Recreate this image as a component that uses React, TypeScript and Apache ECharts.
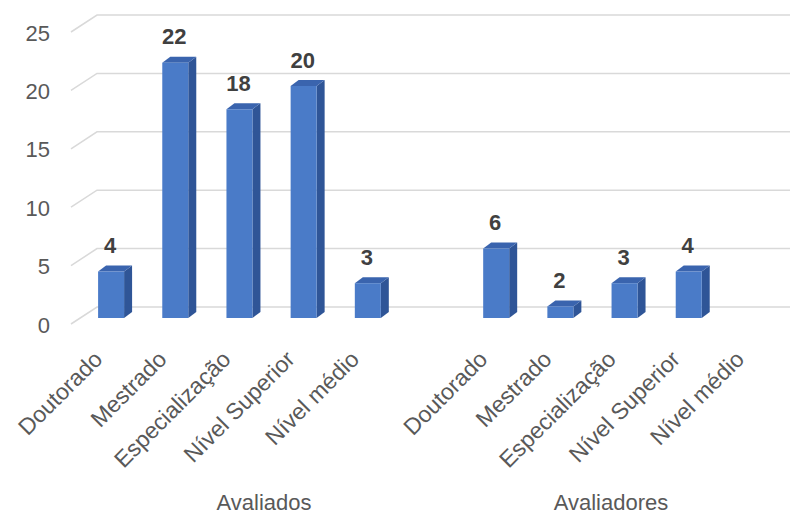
import React, { useEffect, useRef } from "react";
import * as echarts from "echarts";

const levels = ["Doutorado", "Mestrado", "Especialização", "Nível Superior", "Nível médio"];
const groups = ["Avaliados", "Avaliadores"];
const avaliadosValues: (number | null)[] = [4, 22, 18, 20, 3];
const avaliadoresValues: (number | null)[] = [6, 1, 3, 4, null];
const avaliadosLabels = ["4", "22", "18", "20", "3"];
const avaliadoresLabels = ["6", "2", "3", "4", ""];
const yTicks = [0, 5, 10, 15, 20, 25];

const categories = [...levels, "", ...levels];

const FONT = "'Liberation Sans', Arial, sans-serif";
const TEXT = "#595959";

export default function App() {
  const ref = useRef<HTMLDivElement>(null);
  useEffect(() => {
    if (!ref.current) return;
    const chart = echarts.init(ref.current, null, { renderer: "svg" });

    const barData: any[] = [];
    avaliadosValues.forEach((v, i) => {
      if (v != null) barData.push([i, v, avaliadosLabels[i]]);
    });
    avaliadoresValues.forEach((v, i) => {
      if (v != null) barData.push([i + levels.length + 1, v, avaliadoresLabels[i]]);
    });

    const DX = 8, DY = -6, HW = 13;

    const option: any = {
      animation: false,
      backgroundColor: "#ffffff",
      grid: [
        { left: 79, right: 5, top: 28, bottom: 197 }, // bars
        { left: 97, right: 0, top: 15, bottom: 208 }, // back wall
        { left: 79, right: 5, top: 33, bottom: 190 }, // y labels
        { left: 66, right: 18, top: 28, bottom: 197 }, // x labels
      ],
      xAxis: [
        { type: "category", gridIndex: 0, data: categories, show: false },
        { type: "value", gridIndex: 1, min: 0, max: 1, show: false },
        { type: "value", gridIndex: 2, min: 0, max: 1, show: false },
        {
          type: "category",
          gridIndex: 3,
          data: categories,
          axisLine: { show: false },
          axisTick: { show: false },
          axisLabel: {
            interval: 0,
            rotate: 45,
            margin: 37,
            fontSize: 23,
            fontFamily: FONT,
            color: TEXT,
          },
        },
      ],
      yAxis: [
        { type: "value", gridIndex: 0, min: 0, max: 25, interval: 5, show: false },
        { type: "value", gridIndex: 1, min: 0, max: 25, interval: 5, show: false },
        {
          type: "value",
          gridIndex: 2,
          min: 0,
          max: 25,
          interval: 5,
          axisLine: { show: false },
          axisTick: { show: false },
          splitLine: { show: false },
          axisLabel: { margin: 29, fontSize: 22, fontFamily: FONT, color: TEXT },
        },
        { type: "value", gridIndex: 3, min: 0, max: 25, show: false },
      ],
      graphic: groups.map((g, i) => ({
        type: "text",
        x: i === 0 ? 264 : 611,
        y: 502,
        style: {
          text: g,
          fontSize: 22,
          fontFamily: FONT,
          fill: TEXT,
          textAlign: "center",
          textVerticalAlign: "middle",
        },
      })),
      series: [
        {
          type: "custom",
          xAxisIndex: 1,
          yAxisIndex: 1,
          z: 1,
          silent: true,
          data: yTicks.map((t) => [0, t]),
          renderItem: (params: any, api: any) => {
            const p = api.coord([0, api.value(1)]);
            const cs = params.coordSys;
            return {
              type: "polyline",
              shape: {
                points: [
                  [p[0] - 26, p[1] + 17],
                  [p[0], p[1]],
                  [cs.x + cs.width, p[1]],
                ],
              },
              style: { stroke: "#d9d9d9", lineWidth: 1.5, fill: null },
            };
          },
        },
        {
          type: "custom",
          xAxisIndex: 0,
          yAxisIndex: 0,
          z: 2,
          data: barData,
          encode: { x: 0, y: 1 },
          renderItem: (params: any, api: any) => {
            const idx = api.value(0);
            const v = api.value(1);
            const top = api.coord([idx, v]);
            const base = api.coord([idx, 0]);
            const cx = top[0];
            const yt = top[1];
            const y0 = base[1];
            const label = barData[params.dataIndex][2];
            return {
              type: "group",
              children: [
                {
                  type: "polygon",
                  shape: {
                    points: [
                      [cx + HW, yt],
                      [cx + HW + DX, yt + DY],
                      [cx + HW + DX, y0 + DY],
                      [cx + HW, y0],
                    ],
                  },
                  style: { fill: "#2F5597" },
                },
                {
                  type: "polygon",
                  shape: {
                    points: [
                      [cx - HW, yt],
                      [cx - HW + DX, yt + DY],
                      [cx + HW + DX, yt + DY],
                      [cx + HW, yt],
                    ],
                  },
                  style: { fill: "#3A64AE" },
                },
                {
                  type: "rect",
                  shape: { x: cx - HW, y: yt, width: HW * 2, height: y0 - yt },
                  style: { fill: "#4A7BC8" },
                },
                {
                  type: "text",
                  x: cx - 1,
                  y: yt - 26,
                  style: {
                    text: label,
                    fontSize: 22,
                    fontWeight: "bold",
                    fontFamily: FONT,
                    fill: "#404040",
                    textAlign: "center",
                    textVerticalAlign: "middle",
                  },
                },
              ],
            };
          },
        },
      ],
    };
    chart.setOption(option);
    return () => chart.dispose();
  }, []);
  return <div ref={ref} style={{ width: 790, height: 515, position: "absolute", left: 0, top: 0 }} />;
}
